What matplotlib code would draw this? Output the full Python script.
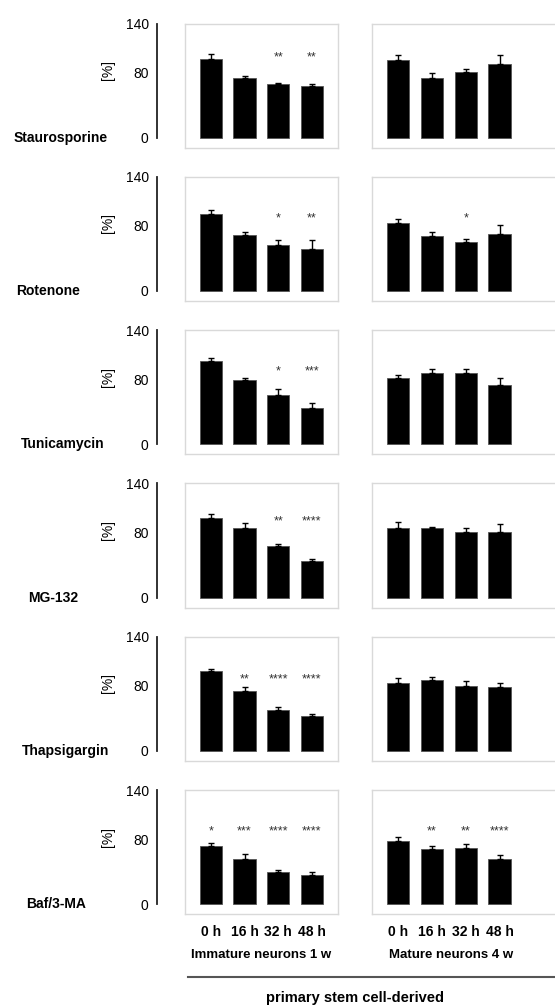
import numpy as np
import matplotlib
matplotlib.use('Agg')
import matplotlib.pyplot as plt
from matplotlib.lines import Line2D

plt.rcParams['font.family'] = ['Liberation Sans', 'DejaVu Sans']

# data
treatments = ['Staurosporine', 'Rotenone', 'Tunicamycin', 'MG-132', 'Thapsigargin', 'Baf/3-MA']
times = ['0 h', '16 h', '32 h', '48 h']
groups = ['Immature neurons 1 w', 'Mature neurons 4 w']

immature_mean = [[96, 73, 66, 64],
                 [95, 69, 56, 52],
                 [102, 79, 60, 44],
                 [98, 86, 63, 45],
                 [98, 74, 50, 43],
                 [71, 56, 40, 36]]
immature_err = [[7, 3, 1, 2.5],
                [4, 4, 6, 10],
                [4.5, 2, 8, 7],
                [4, 5, 2.5, 2],
                [3, 4, 4, 2.5],
                [4.5, 5, 2, 3]]
immature_stars = [['', '', '**', '**'],
                  ['', '', '*', '**'],
                  ['', '', '*', '***'],
                  ['', '', '**', '****'],
                  ['', '**', '****', '****'],
                  ['*', '***', '****', '****']]

mature_mean = [[95, 73, 81, 91],
               [83, 67, 60, 70],
               [81, 87, 87, 73],
               [86, 86, 81, 80],
               [83, 87, 80, 78],
               [78, 68, 69, 55]]
mature_err = [[6, 6.5, 3, 10],
              [5, 6, 4, 11],
              [4.5, 5, 5, 8.5],
              [6.5, 1.2, 5, 10],
              [6, 4, 5.5, 5],
              [4, 3.5, 5, 5]]
mature_stars = [['', '', '', ''],
                ['', '', '*', ''],
                ['', '', '', ''],
                ['', '', '', ''],
                ['', '', '', ''],
                ['', '**', '**', '****']]

star_level = [102, 93, 93, 98, 92, 93]

# layout (pixels)
W, H = 555, 1005
fig = plt.figure(figsize=(W / 100, H / 100), dpi=100)

def add_px_axes(x0, top, w, h):
    return fig.add_axes([x0 / W, 1 - (top + h) / H, w / W, h / H])

s = 0.815          # px per %
pitch = 153.3
base0 = 137.7
bar_px = 33.8
label_x = [61, 48, 63, 53, 66, 56]

x = np.arange(len(times))

def draw_panel(ax, means, errs, stars, level):
    ax.bar(x, means, width=0.66, color='black', edgecolor='#555555', linewidth=0.6)
    ax.errorbar(x, means, yerr=[np.zeros(len(errs)), errs], fmt='none',
                ecolor='black', elinewidth=1, capsize=2.5, capthick=1)
    for xi, st in zip(x, stars):
        if st:
            ax.text(xi, level - 4, st, ha='center', va='center', fontsize=9, color='#333333')
    for sp in ax.spines.values():
        sp.set_color('#d9d9d9')
        sp.set_linewidth(1)
    ax.set_ylim(-12.3, 140)
    ax.tick_params(length=0)
    ax.set_yticks([])
    ax.set_xticks([])

for i, name in enumerate(treatments):
    base = base0 + pitch * i
    top = base - 140 * s

    # y axis with ticks
    sax = add_px_axes(157, top, 20, 140 * s)
    sax.set_ylim(0, 140)
    sax.set_yticks([0, 80, 140])
    sax.set_yticklabels(['0', '80', '140'], fontsize=10)
    sax.tick_params(axis='y', length=0, pad=6)
    sax.set_xticks([])
    for k in ['top', 'right', 'bottom']:
        sax.spines[k].set_visible(False)
    sax.spines['left'].set_linewidth(1.3)
    sax.spines['left'].set_color('#222222')
    sax.patch.set_alpha(0)

    fig.text(108 / W, 1 - (base - 83 * s) / H, '[%]', rotation=90,
             ha='center', va='center', fontsize=10)
    fig.text(label_x[i] / W, 1 - base / H, name, ha='center', va='center',
             fontsize=10, fontweight='bold')

    ph = 152.3 * s
    axl = add_px_axes(185, top, 152.7, ph)
    axl.set_xlim(-0.766, 3.766)
    draw_panel(axl, immature_mean[i], immature_err[i], immature_stars[i], star_level[i])

    wr = 240
    axr = add_px_axes(372.3, top, wr, ph)
    axr.set_xlim(-0.766, -0.766 + wr / bar_px)
    draw_panel(axr, mature_mean[i], mature_err[i], mature_stars[i], star_level[i])

    if i == len(treatments) - 1:
        for ax in (axl, axr):
            ax.set_xticks(x)
            ax.set_xticklabels(times, fontsize=10, fontweight='bold')
            ax.tick_params(axis='x', length=0, pad=8)
        fig.text(261.5 / W, 1 - 955 / H, groups[0], ha='center', va='center',
                 fontsize=9.5, fontweight='bold')
        fig.text(451.5 / W, 1 - 955 / H, groups[1], ha='center', va='center',
                 fontsize=9.5, fontweight='bold')

fig.add_artist(Line2D([188 / W, 1.0], [1 - 976.7 / H, 1 - 976.7 / H],
                      color='#555555', linewidth=1.5))
fig.text(355 / W, 1 - 998 / H, 'primary stem cell-derived', ha='center', va='center',
         fontsize=10.5, fontweight='bold')

fig.savefig('out.png', dpi=100)
